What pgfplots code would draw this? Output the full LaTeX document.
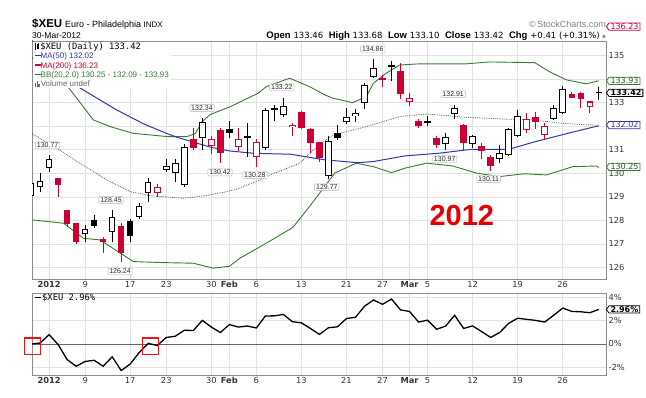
\documentclass[border=0pt]{standalone}
\usepackage{fontspec}
\setmainfont{Liberation Sans}
\newfontfamily\dvs{DejaVu Sans}
\newfontfamily\mono{DejaVu Sans Mono}
\usepackage{pgfplots}
\pgfplotsset{compat=1.18}
\usepackage{pgfplotstable}
\usetikzlibrary{shapes.symbols}

\definecolor{cred}{RGB}{204,0,51}
\definecolor{cblue}{RGB}{51,51,170}
\definecolor{cgreen}{RGB}{56,120,48}
\definecolor{gridc}{RGB}{226,226,226}
\definecolor{framec}{RGB}{140,140,140}
\definecolor{boxred}{RGB}{235,20,20}

% ---- candles: hollow black ----
\pgfplotstableread{
x o h l c
-2 129.05 129.62 128.95 129.58
-1 129.40 130.03 129.22 129.69
0 130.22 130.77 130.07 130.62
4 127.43 127.81 127.10 127.63
7 127.52 128.45 127.10 128.16
10 128.16 128.76 128.05 128.63
11 129.15 129.79 128.80 129.65
13 130.14 130.60 130.07 130.31
14 130.00 130.60 129.61 130.43
15 129.51 131.25 129.44 131.11
17 131.49 132.34 131.00 132.20
22 131.55 132.13 130.71 131.57
24 131.07 132.77 131.00 132.69
26 132.48 133.22 132.41 132.86
31 129.87 131.59 129.77 131.38
33 132.20 132.79 132.10 132.41
34 132.44 132.72 132.20 132.55
35 132.98 133.85 132.72 133.76
36 134.08 134.86 134.05 134.46
38 134.55 134.75 133.90 134.57
42 132.15 132.44 132.01 132.22
44 131.25 131.73 130.97 131.56
45 132.52 132.91 132.31 132.77
47 131.25 131.63 131.07 131.59
50 130.60 131.21 130.45 130.85
51 130.78 131.92 130.74 131.87
52 131.60 132.69 131.56 132.44
56 132.30 132.91 132.25 132.77
57 132.58 133.71 132.52 133.57
}\HB
% ---- filled black ----
\pgfplotstableread{
x o h l c
5 128.02 128.22 127.67 127.77
9 127.98 128.06 127.10 127.35
20 131.89 132.24 131.49 131.73
25 132.77 132.91 132.23 132.70
32 131.73 132.06 131.42 131.49
61 133.46 133.68 133.10 133.42
}\FB
% ---- hollow red ----
\pgfplotstableread{
x o h l c
12 129.18 129.55 129.01 129.41
18 131.16 131.59 130.81 131.46
21 131.11 131.92 130.96 131.46
23 130.71 131.45 130.28 131.35
27 131.96 132.13 131.60 132.06
40 133.05 133.43 132.86 133.19
53 131.84 132.58 131.70 132.31
55 131.63 132.13 131.42 132.01
60 132.81 133.09 132.55 133.05
}\HR
% ---- filled red ----
\pgfplotstableread{
x o h l c
1 129.79 129.82 129.01 129.51
2 128.44 128.46 127.74 127.85
3 127.88 127.90 127.00 127.10
6 127.21 127.31 126.61 127.10
8 127.78 127.90 126.24 126.63
16 131.45 131.92 131.00 131.07
19 131.84 131.92 130.42 130.85
28 132.62 132.65 131.87 131.92
29 131.87 131.92 130.85 131.30
30 131.32 131.35 130.50 130.64
37 134.05 134.18 133.68 133.98
39 134.36 134.68 133.15 133.37
41 132.23 132.30 131.94 132.01
43 131.52 131.59 131.07 131.21
46 132.06 132.08 131.00 131.30
48 131.14 131.28 130.60 130.95
49 130.71 130.78 130.11 130.31
54 132.41 132.62 131.87 132.20
58 133.36 133.47 133.18 133.19
59 133.43 133.45 132.79 133.15
}\FR

\pgfplotstableread{
x y
-1.9 134.90
4.1 133.47
7.5 132.69
10.6 132.08
13.0 131.70
14.2 131.53
17.9 131.11
20.0 130.95
22.7 130.85
26.8 130.81
30.6 130.57
34.3 130.45
36.0 130.50
39.5 130.74
43.2 130.85
46.9 131.02
51.0 131.02
54.0 131.35
57.6 131.70
61.0 132.02
}\MAfifty

\pgfplotstableread{
x y
-1.9 135.65
0 134.70
2.5 133.47
4.9 132.27
6.8 131.98
9.3 131.70
13.1 131.56
15.3 131.56
16.2 131.68
17.0 132.20
17.9 132.50
20.1 132.83
23.2 133.40
24.1 133.68
26.7 134.04
28.9 133.68
30.6 133.33
31.5 133.19
33.7 133.00
35.2 133.26
36.0 133.83
37.4 134.25
38.9 134.60
41.1 134.65
46.3 134.65
48.9 134.73
53.9 134.70
55.5 134.32
57.4 133.97
59.6 133.80
61.0 133.93
}\BBup

\pgfplotstableread{
x y
-1.9 131.68
0.85 131.07
3.4 130.43
6.4 129.72
9.0 129.22
11.2 129.05
14.9 128.94
17.5 129.06
19.7 129.22
21.0 129.35
23.4 129.72
24.1 129.86
27.8 130.43
29.7 131.13
31.5 131.63
35.2 131.98
38.9 132.41
41.9 132.52
46.3 132.38
50.7 132.30
53.7 132.27
56.7 132.13
59.6 132.06
61.0 132.05
}\BBmid

\pgfplotstableread{
x y
-1.9 128.02
1.6 127.88
3.8 127.24
5.65 127.17
7.9 126.61
9.35 126.25
12.3 126.21
16.0 126.18
18.2 125.97
20.0 126.05
21.2 126.40
24.1 127.03
27.05 127.70
28.9 128.59
30.6 129.45
31.7 130.01
34.1 130.43
36.0 130.28
38.0 130.03
39.5 130.22
41.9 130.43
44.8 130.31
47.4 130.01
50.0 129.86
52.7 129.98
55.2 129.93
58.1 130.28
60.7 130.31
61.0 130.25
}\BBlow

\pgfplotstableread{
x p
-2 0.00
-1 0.08
0 0.80
1 -0.05
2 -1.34
3 -1.91
4 -1.50
5 -1.40
6 -1.91
7 -1.10
8 -2.28
9 -1.72
10 -0.73
11 0.05
12 -0.13
13 0.56
14 0.66
15 1.18
16 1.15
17 2.02
18 1.45
19 0.98
20 1.66
21 1.45
22 1.54
23 1.37
24 2.40
25 2.41
26 2.53
27 1.91
28 1.81
29 1.33
30 0.82
31 1.39
32 1.47
33 2.18
34 2.29
35 3.23
36 3.77
37 3.40
38 3.85
39 2.92
40 2.79
41 1.88
42 2.04
43 1.26
44 1.53
45 2.46
46 1.33
47 1.55
48 1.06
49 0.56
50 0.98
51 1.77
52 2.21
53 2.11
54 2.02
55 1.88
56 2.46
57 3.08
58 2.79
59 2.76
60 2.68
61 2.96
}\PCT

\pgfplotsset{
  nomark/.style={only marks, mark=*, mark size=0pt, mark options={draw=none, fill=none}, forget plot},
  wick/.style={nomark, error bars/.cd, y dir=both, y explicit, error mark=none,
    error bar style={line width=0.9pt, draw=#1}},
  body/.style={nomark, error bars/.cd, y dir=both, y explicit, error mark=none,
    error bar style={line width=6.5pt, draw=#1}},
  bodyin/.style={nomark, error bars/.cd, y dir=both, y explicit, error mark=none,
    error bar style={line width=4.5pt, draw=white}},
}
\newcommand\wicks[2]{\addplot[wick=#2] table[x=x, y expr={(\thisrow{h}+\thisrow{l})/2}, y error expr={(\thisrow{h}-\thisrow{l})/2}] {#1};}
\newcommand\bodies[2]{\addplot[body=#2] table[x=x, y expr={(\thisrow{o}+\thisrow{c})/2}, y error expr={max(abs(\thisrow{c}-\thisrow{o})/2,0.022)}] {#1};}
\newcommand\holes[1]{\addplot[bodyin] table[x=x, y expr={(\thisrow{o}+\thisrow{c})/2}, y error expr={max(abs(\thisrow{c}-\thisrow{o})/2-0.043,0)}] {#1};}

\tikzset{
  callout/.style={draw=black!30, fill=white, rounded corners=1pt, inner xsep=1.5pt, inner ysep=1pt, font=\fontsize{7}{7}\selectfont, text=black!85},
  valbox/.style={signal, signal to=west, signal pointer angle=110, fill=white, line width=0.8pt, inner xsep=1.5pt, inner ysep=0.6pt, anchor=west, font=\dvs\fontsize{8}{8}\selectfont},
}

\begin{document}
\begin{tikzpicture}[x=1pt,y=1pt]
\path[use as bounding box] (0,0) rectangle (646,398);

% ---------------- main panel ----------------
\begin{axis}[
  at={(32pt,119pt)}, anchor=south west,
  width=574pt, height=238pt, scale only axis,
  xmin=-1.9, xmax=61.8, ymin=125.51, ymax=135.62,
  axis line style={framec, line width=0.7pt},
  xtick={0,4,9,13,18,20,23,28,33,37,40,42,47,52,57},
  xticklabels={\textbf{2012},9,17,23,30,\textbf{Feb},6,13,21,27,\textbf{Mar},5,12,19,26},
  ytick={126,...,135},
  yticklabels={126,127,128,129,130,131,,133,,135},
  yticklabel pos=right,
  grid=major, major grid style={gridc, line width=0.6pt},
  major tick length=0pt,
  tick label style={font=\dvs\fontsize{8.3}{9}\selectfont, text=black!80},
  yticklabel style={anchor=west, xshift=-1pt},
  xticklabel style={yshift=1pt},
  clip mode=individual,
]
\addplot[cgreen, line width=0.9pt, forget plot] table[x=x,y=y] {\BBup};
\addplot[cgreen, line width=0.9pt, forget plot] table[x=x,y=y] {\BBlow};
\addplot[cgreen, line width=0.8pt, densely dotted, forget plot] table[x=x,y=y] {\BBmid};
\addplot[cblue, line width=1.0pt, forget plot] table[x=x,y=y] {\MAfifty};

\wicks{\HB}{black}
\wicks{\FB}{black}
\wicks{\HR}{cred}
\wicks{\FR}{cred}
\bodies{\HB}{black}
\bodies{\FB}{black}
\bodies{\HR}{cred}
\bodies{\FR}{cred}
\holes{\HB}
\holes{\HR}

% callout labels
\node[callout] at (axis cs:-0.17,131.19) {130.77};
\node[callout] at (axis cs:6.87,128.87) {128.45};
\node[callout] at (axis cs:7.87,125.83) {126.24};
\node[callout] at (axis cs:16.96,132.78) {132.34};
\node[callout] at (axis cs:18.96,130.04) {130.42};
\node[callout] at (axis cs:22.84,129.93) {130.28};
\node[callout] at (axis cs:25.83,133.65) {133.22};
\node[callout] at (axis cs:30.82,129.42) {129.77};
\node[callout] at (axis cs:35.92,135.28) {134.86};
\node[callout] at (axis cs:44.84,133.37) {132.91};
\node[callout] at (axis cs:43.90,130.59) {130.97};
\node[callout] at (axis cs:48.78,129.76) {130.11};

% big annotation
\node[text={rgb,255:red,230;green,0;blue,0}, font=\bfseries\fontsize{29}{29}\selectfont, inner sep=0] at (axis cs:45.8,128.22) {2012};

% right value boxes
\node[valbox, draw=cgreen, text=cgreen!70!black] at (axis cs:61.8,133.93) {133.93};
\node[valbox, draw=black, text=black, font=\dvs\bfseries\fontsize{8}{8}\selectfont] at (axis cs:61.8,133.42) {133.42};
\node[valbox, draw=cblue, text=cblue] at (axis cs:61.8,132.05) {132.02};
\node[valbox, draw=cgreen, text=cgreen!70!black] at (axis cs:61.8,130.27) {130.25};
\node[valbox, draw=cred, text=cred] at (axis cs:61.8,136.23) {136.23};
\end{axis}

% legend of main panel
\node[anchor=north west, fill=white, inner xsep=2pt, inner ysep=1pt, align=left,
      font=\fontsize{8}{9.3}\selectfont] at (32.5pt,356.5pt) {%
  \tikz[baseline=0pt]{\draw[line width=0.6pt] (0.8pt,-0.5pt)--(0.8pt,6.5pt); \fill (0,1pt) rectangle (1.6pt,5pt); \draw[line width=0.6pt] (3.4pt,0pt)--(3.4pt,6.5pt); \draw[line width=0.5pt] (2.8pt,1.5pt) rectangle (4pt,5pt);}\,{\mono\fontsize{8.8}{9.3}\selectfont \$XEU (Daily) 133.42}\\
  \textcolor{cblue}{\rule[2.3pt]{6pt}{1.3pt}MA(50) 132.02}\\
  \textcolor{cred}{\rule[2.3pt]{6pt}{1.3pt}MA(200) 136.23}\\
  \textcolor{cgreen}{\rule[2.3pt]{6pt}{1.3pt}BB(20,2.0) 130.25 - 132.09 - 133.93}\\
  \textcolor{black!60}{\tikz[baseline=0pt]{\fill (0,0) rectangle (1.2pt,4pt); \fill (1.8pt,0) rectangle (3pt,6pt); \fill (3.6pt,0) rectangle (4.8pt,3pt);}\,Volume undef}};

% ---------------- lower panel ----------------
\begin{axis}[
  at={(32pt,23pt)}, anchor=south west,
  width=574pt, height=82pt, scale only axis,
  xmin=-1.9, xmax=61.8, ymin=-2.66, ymax=4.37,
  axis line style={framec, line width=0.7pt},
  xtick={0,4,9,13,18,20,23,28,33,37,40,42,47,52,57},
  xticklabels={\textbf{2012},9,17,23,30,\textbf{Feb},6,13,21,27,\textbf{Mar},5,12,19,26},
  ytick={-2,2,4},
  yticklabels={-2\%,2\%,4\%},
  extra y ticks={0}, extra y tick labels={0\%},
  extra y tick style={major grid style={black!60, line width=0.9pt}},
  yticklabel pos=right,
  grid=major, major grid style={gridc, line width=0.6pt},
  major tick length=0pt,
  tick label style={font=\dvs\fontsize{8.3}{9}\selectfont, text=black!80},
  yticklabel style={anchor=west, xshift=-1pt},
  xticklabel style={yshift=1pt},
  clip mode=individual,
]
\addplot[black, line width=1.3pt, forget plot] table[x=x,y=p] {\PCT};
\node[draw=boxred, line width=1.3pt, minimum width=16pt, minimum height=16.5pt, inner sep=0] at (axis cs:-1.84,-0.2) {};
\node[draw=boxred, line width=1.3pt, minimum width=16pt, minimum height=16.5pt, inner sep=0] at (axis cs:11.27,-0.2) {};
\node[valbox, draw=black, text=black, font=\dvs\bfseries\fontsize{8}{8}\selectfont] at (axis cs:61.8,2.96) {2.96\%};
\end{axis}
\node[anchor=north west, inner xsep=2pt, inner ysep=1pt, font=\mono\fontsize{8.8}{9}\selectfont] at (32.5pt,105pt) {\rule[2.6pt]{6pt}{1.3pt}\,\$XEU 2.96\%};

% ---------------- header ----------------
\node[anchor=base west, inner sep=0] at (32pt,370pt) {{\bfseries\fontsize{11.5}{12}\selectfont \$XEU} {\fontsize{9}{10}\selectfont Euro - Philadelphia {\fontsize{8}{9}\selectfont INDX}}};
\node[anchor=base west, inner sep=0, font=\fontsize{8.5}{9}\selectfont] at (32pt,359pt) {30-Mar-2012};
\node[anchor=base east, inner sep=0] at (600pt,359pt) {{\bfseries\fontsize{9.5}{10}\selectfont Open}~{\dvs\fontsize{8.5}{9}\selectfont 133.46}\ \ {\bfseries\fontsize{9.5}{10}\selectfont High}~{\dvs\fontsize{8.5}{9}\selectfont 133.68}\ \ {\bfseries\fontsize{9.5}{10}\selectfont Low}~{\dvs\fontsize{8.5}{9}\selectfont 133.10}\ \ {\bfseries\fontsize{9.5}{10}\selectfont Close}~{\dvs\fontsize{8.5}{9}\selectfont 133.42}\ \ {\bfseries\fontsize{9.5}{10}\selectfont Chg}~{\dvs\fontsize{8.5}{9}\selectfont +0.41 (+0.31\%)}};
\node[anchor=base west, inner sep=0, text=black!50, font=\dvs\fontsize{5}{5}\selectfont] at (602pt,360pt) {▲};
\node[anchor=base east, inner sep=0, text=black!50, font=\fontsize{9}{10}\selectfont] at (606pt,370pt) {\textcopyright\,StockCharts.com};
\end{tikzpicture}
\end{document}
